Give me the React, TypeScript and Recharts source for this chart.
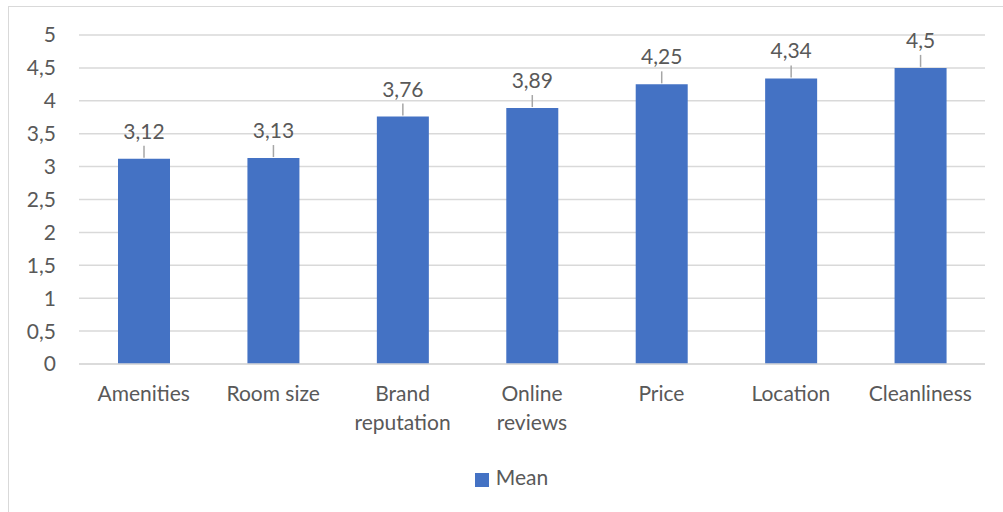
import React from "react";
import { BarChart, Bar, XAxis, YAxis, CartesianGrid, Legend, LabelList } from "recharts";

const categories = ["Amenities", "Room size", "Brand reputation", "Online reviews", "Price", "Location", "Cleanliness"];
const meanValues = [3.12, 3.13, 3.76, 3.89, 4.25, 4.34, 4.5];
const yTicks = [0, 0.5, 1, 1.5, 2, 2.5, 3, 3.5, 4, 4.5, 5];

const data = categories.map((name, i) => ({ name, mean: meanValues[i] }));

const FONT = "Lato, Carlito, 'Open Sans', sans-serif";
const TEXT = "#595959";
const FS = 21;

const fmt = (v: number) => String(v).replace(".", ",");

// split long category names onto two lines like Excel does
const CategoryTick = (props: any) => {
  const { x, y, payload } = props;
  const label: string = payload.value;
  const lines = label.length > 10 ? label.split(" ") : [label];
  return (
    <g>
      {lines.map((line, i) => (
        <text
          key={i}
          x={x}
          y={y + 29 + i * 29}
          textAnchor="middle"
          fill={TEXT}
          fontSize={FS}
          fontFamily={FONT}
        >
          {line}
        </text>
      ))}
    </g>
  );
};

const ValueLabel = (props: any) => {
  const { x, y, width, value } = props;
  const cx = x + width / 2;
  return (
    <g>
      <line x1={cx} x2={cx} y1={y - 1} y2={y - 13} stroke="#a6a6a6" strokeWidth={1.5} />
      <text x={cx} y={y - 20} textAnchor="middle" fill={TEXT} fontSize={FS} fontFamily={FONT}>
        {fmt(value)}
      </text>
    </g>
  );
};

export default function App() {
  return (
    <div style={{ position: "absolute", left: 0, top: 0, width: 1003, height: 512, background: "#fff", overflow: "hidden" }}>
      <div
        style={{
          position: "absolute",
          left: 8,
          top: 6,
          width: 1010,
          height: 520,
          border: "1.5px solid #d9d9d9",
          boxSizing: "border-box",
        }}
      />
      <BarChart
        width={1003}
        height={512}
        data={data}
        margin={{ top: 35, right: 18, left: 0, bottom: 0 }}
        style={{ position: "absolute", left: 0, top: 0 }}
      >
        <CartesianGrid vertical={false} stroke="#d9d9d9" strokeWidth={1.5} />
        <XAxis
          dataKey="name"
          axisLine={{ stroke: "#d9d9d9", strokeWidth: 1.5 }}
          tickLine={false}
          interval={0}
          height={123}
          tick={<CategoryTick />}
        />
        <YAxis
          domain={[0, 5]}
          ticks={yTicks}
          width={79}
          axisLine={false}
          tickLine={false}
          tickMargin={17}
          tickFormatter={fmt}
          tick={{ fill: TEXT, fontSize: FS, fontFamily: FONT }}
        />
        <Legend
          verticalAlign="bottom"
          iconType="square"
          iconSize={14}
          wrapperStyle={{ top: 464, left: 15, width: 1003, fontFamily: FONT, fontSize: FS }}
          formatter={(v) => <span style={{ color: TEXT, marginLeft: 3 }}>{v}</span>}
        />
        <Bar dataKey="mean" name="Mean" fill="#4472c4" barSize={52} isAnimationActive={false}>
          <LabelList dataKey="mean" content={<ValueLabel />} />
        </Bar>
      </BarChart>
    </div>
  );
}
